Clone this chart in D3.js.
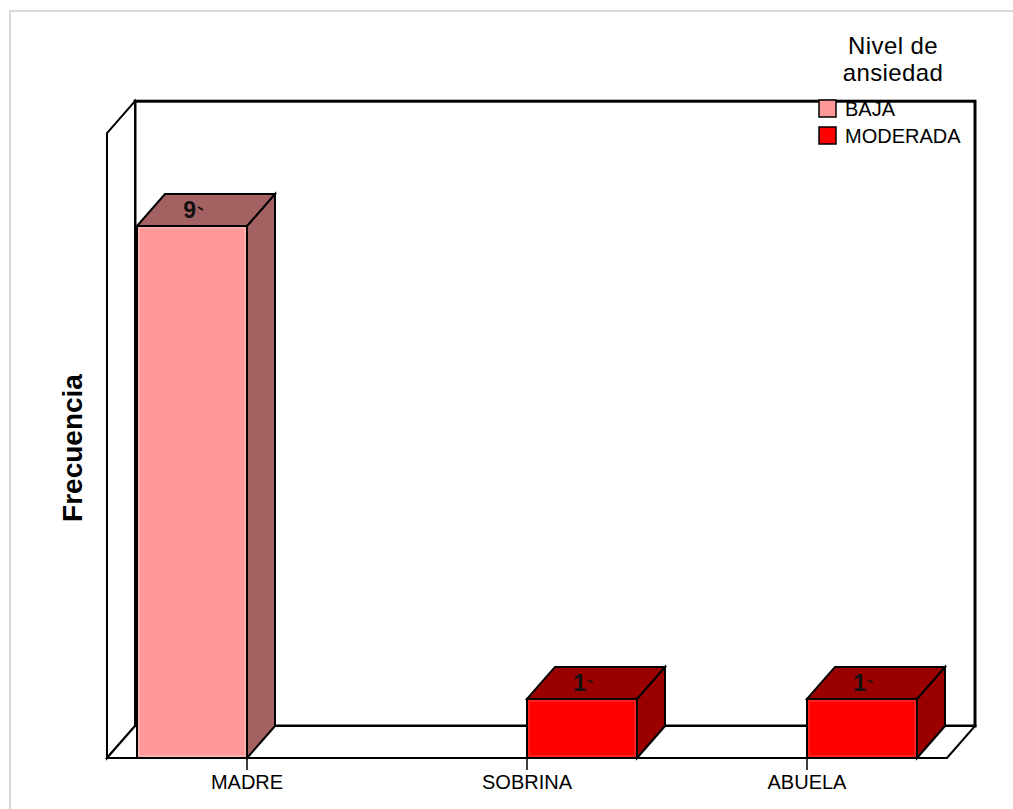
<!DOCTYPE html>
<html>
<head>
<meta charset="utf-8">
<script src="https://cdn.jsdelivr.net/npm/d3@7"></script>
<style>
  html, body { margin: 0; padding: 0; background: #fff; }
  svg { display: block; font-family: "Liberation Sans", Arial, sans-serif; }
</style>
</head>
<body>
<svg id="chart" width="1013" height="809"></svg>
<script>
// Categories and series (frequency counts)
const categories = ["MADRE", "SOBRINA", "ABUELA"];
const seriesNames = ["BAJA", "MODERADA"];
const bajaValues = [9, 0, 0];
const moderadaValues = [0, 1, 1];
const legendTitle = ["Nivel de", "ansiedad"];
const yTitle = "Frecuencia";

const seriesValues = [bajaValues, moderadaValues];
const frontColors = ["#ff9999", "#ff0000"];
const shadeColors = ["#a36161", "#9a0000"];
const edgeColors = ["#ffc4c4", "#ff4040"];

const svg = d3.select("#chart");

// outer light frame
svg.append("rect")
  .attr("x", 10).attr("y", 11).attr("width", 1020).attr("height", 820)
  .attr("fill", "none").attr("stroke", "#d9d9d9").attr("stroke-width", 2);

// 3D floor/wall geometry
const plotLeft = 107, plotRight = 947, base = 758;
const dx = 28, dy = -32;
const yMax = 10.57;

const x = d3.scaleBand().domain(categories).range([plotLeft, plotRight]).paddingInner(0).paddingOuter(0);
const xs = d3.scaleBand().domain(seriesNames).range([0, x.bandwidth()]).paddingInner(0).paddingOuter(30 / 110);
const y = d3.scaleLinear().domain([0, yMax]).range([base, base - (yMax * 59.11)]);

const plotTop = y(yMax);
const wall = svg.append("g").attr("fill", "#fff").attr("stroke", "#000").attr("stroke-linejoin", "miter");

// back wall
wall.append("rect")
  .attr("x", plotLeft + dx).attr("y", plotTop + dy)
  .attr("width", plotRight - plotLeft).attr("height", base - plotTop)
  .attr("stroke-width", 3);
// left side wall
wall.append("polygon")
  .attr("points", [[plotLeft, plotTop], [plotLeft + dx, plotTop + dy], [plotLeft + dx, base + dy], [plotLeft, base]].join(" "))
  .attr("stroke-width", 2);
// floor
wall.append("polygon")
  .attr("points", [[plotLeft, base], [plotLeft + dx, base + dy], [plotRight + dx, base + dy], [plotRight, base]].join(" "))
  .attr("stroke-width", 2);

// bars
const barData = [];
categories.forEach((c, i) => {
  seriesNames.forEach((s, j) => {
    const v = seriesValues[j][i];
    if (v > 0) barData.push({ cat: c, series: s, si: j, value: v });
  });
});

const bars = svg.append("g").selectAll("g.bar").data(barData).join("g").attr("class", "bar");

bars.each(function(d) {
  const g = d3.select(this);
  const x0 = x(d.cat) + xs(d.series);
  const x1 = x0 + xs.bandwidth();
  const yv = y(d.value);
  const y0 = y(0);
  // side face
  g.append("polygon")
    .attr("points", [[x1, yv], [x1 + dx, yv + dy], [x1 + dx, y0 + dy], [x1, y0]].join(" "))
    .attr("fill", shadeColors[d.si]).attr("stroke", "#000").attr("stroke-width", 2);
  // top face
  g.append("polygon")
    .attr("points", [[x0, yv], [x0 + dx, yv + dy], [x1 + dx, yv + dy], [x1, yv]].join(" "))
    .attr("fill", shadeColors[d.si]).attr("stroke", "#000").attr("stroke-width", 2);
  // front face
  g.append("rect")
    .attr("x", x0).attr("y", yv).attr("width", x1 - x0).attr("height", y0 - yv)
    .attr("fill", frontColors[d.si]).attr("stroke", "#000").attr("stroke-width", 2);
  g.append("rect")
    .attr("x", x0 + 2).attr("y", yv + 2).attr("width", x1 - x0 - 4).attr("height", y0 - yv - 4)
    .attr("fill", "none").attr("stroke", edgeColors[d.si]).attr("stroke-width", 1.2).attr("opacity", 0.8);
  // value label on the top face
  const cx = (x0 + x1) / 2 + dx / 2;
  const cy = yv + dy / 2;
  g.append("text")
    .attr("x", cx - 10).attr("y", cy + 8)
    .attr("text-anchor", "end")
    .attr("font-size", 23).attr("font-weight", "bold").attr("fill", "#111")
    .text(d.value);
  g.append("line")
    .attr("x1", cx - 8).attr("y1", cy - 3).attr("x2", cx - 3).attr("y2", cy)
    .attr("stroke", "#111").attr("stroke-width", 1.6);
});

// category axis
const axis = svg.append("g")
  .attr("transform", `translate(0,${base})`)
  .call(d3.axisBottom(x).tickSize(12).tickPadding(5));
axis.select(".domain").remove();
axis.selectAll(".tick line").attr("stroke", "#000").attr("stroke-width", 1.5);
axis.selectAll(".tick text")
  .attr("font-size", 20).attr("fill", "#000")
  .attr("font-family", "'Liberation Sans', Arial, sans-serif");

// y-axis title
svg.append("text")
  .attr("transform", `translate(82,448) rotate(-90)`)
  .attr("text-anchor", "middle")
  .attr("font-size", 28).attr("font-weight", "bold").attr("fill", "#000")
  .text(yTitle);

// legend
const legend = svg.append("g");
legend.selectAll("text.title").data(legendTitle).join("text")
  .attr("class", "title")
  .attr("x", 893).attr("y", (d, i) => 54 + i * 27)
  .attr("text-anchor", "middle")
  .attr("font-size", 24).attr("letter-spacing", 0.4).attr("fill", "#000")
  .text(d => d);

const items = legend.selectAll("g.item").data(seriesNames).join("g")
  .attr("class", "item")
  .attr("transform", (d, i) => `translate(819,${100 + i * 27})`);
items.append("rect")
  .attr("width", 17).attr("height", 17)
  .attr("fill", (d, i) => frontColors[i]).attr("stroke", "#000").attr("stroke-width", 1.5);
items.append("text")
  .attr("x", 26).attr("y", 16)
  .attr("font-size", 20).attr("fill", "#000")
  .text(d => d);
</script>
</body>
</html>
